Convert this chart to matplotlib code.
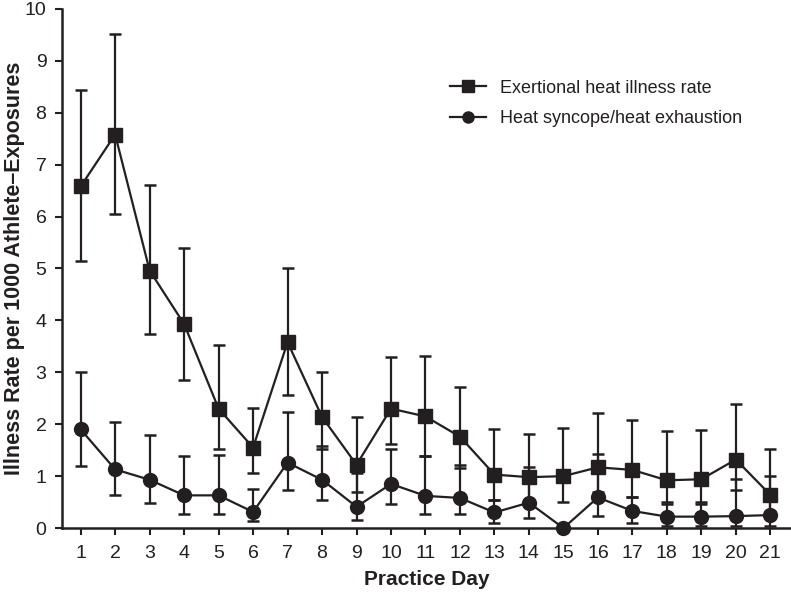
import numpy as np
import matplotlib
matplotlib.use('Agg')
import matplotlib.pyplot as plt

plt.rcParams['font.family'] = ['Liberation Sans Narrow', 'Liberation Sans', 'DejaVu Sans']

days = list(range(1, 22))

# exertional heat illness rate with CI bounds
ehi = [6.58, 7.58, 4.96, 3.93, 2.30, 1.55, 3.58, 2.14, 1.22, 2.30, 2.15,
       1.76, 1.03, 0.98, 1.00, 1.17, 1.12, 0.92, 0.94, 1.32, 0.64]
ehi_lo = [5.14, 6.05, 3.74, 2.86, 1.52, 1.06, 2.56, 1.52, 0.69, 1.62, 1.39,
          1.16, 0.55, 0.55, 0.51, 0.70, 0.60, 0.46, 0.46, 0.73, 0.30]
ehi_hi = [8.44, 9.52, 6.60, 5.40, 3.52, 2.31, 5.00, 3.01, 2.14, 3.30, 3.31,
          2.71, 1.91, 1.81, 1.92, 2.21, 2.08, 1.86, 1.89, 2.39, 1.52]

# heat syncope / heat exhaustion
hs = [1.90, 1.13, 0.93, 0.63, 0.63, 0.31, 1.26, 0.93, 0.41, 0.85, 0.62,
      0.58, 0.30, 0.49, 0.00, 0.59, 0.33, 0.22, 0.22, 0.23, 0.25]
hs_lo = [1.19, 0.63, 0.48, 0.28, 0.28, 0.13, 0.73, 0.55, 0.15, 0.47, 0.28,
         0.28, 0.10, 0.20, 0.00, 0.24, 0.10, 0.04, 0.04, 0.04, 0.04]
hs_hi = [3.00, 2.04, 1.79, 1.38, 1.40, 0.75, 2.23, 1.58, 1.07, 1.53, 1.39,
         1.22, 0.55, 1.18, 0.00, 1.43, 0.60, 0.50, 0.50, 0.95, 1.01]

col = '#231f20'

fig = plt.figure(figsize=(7.91, 5.92), dpi=100)
ax = fig.add_axes([0.078, 0.108, 0.922, 0.877])

e1 = np.array([np.subtract(ehi, ehi_lo), np.subtract(ehi_hi, ehi)])
e2 = np.array([np.subtract(hs, hs_lo), np.subtract(hs_hi, hs)])

c1 = ax.errorbar(days, ehi, yerr=e1, color=col, marker='s', ms=10, lw=1.6,
                 capsize=4.5, capthick=1.8, elinewidth=1.6,
                 label='Exertional heat illness rate', clip_on=False, zorder=3)
c2 = ax.errorbar(days, hs, yerr=e2, color=col, marker='o', ms=10, lw=1.6,
                 capsize=4.5, capthick=1.8, elinewidth=1.6,
                 label='Heat syncope/heat exhaustion', clip_on=False, zorder=3)

ax.set_xlim(0.45, 21.6)
ax.set_ylim(0, 10)
ax.set_xticks(days)
ax.set_yticks(range(0, 11))
ax.tick_params(direction='out', length=5, width=1.5, color=col,
               labelsize=14, labelcolor=col)
ax.tick_params(axis='x', pad=7)
ax.tick_params(axis='y', pad=6)
for s in ['top', 'right']:
    ax.spines[s].set_visible(False)
for s in ['left', 'bottom']:
    ax.spines[s].set_linewidth(1.8)
    ax.spines[s].set_color(col)

ax.set_xlabel('Practice Day', fontsize=15, fontweight='bold', color=col, labelpad=6)
ax.set_ylabel('Illness Rate per 1000 Athlete\u2013Exposures', fontsize=15.5,
              fontweight='bold', color=col)
ax.yaxis.set_label_coords(-0.05, 0.5)

leg = ax.legend(handles=[c1.lines[0], c2.lines[0]],
                labels=['Exertional heat illness rate', 'Heat syncope/heat exhaustion'],
                loc='upper left', bbox_to_anchor=(0.51, 0.895), frameon=False,
                fontsize=13, handlelength=2.0, labelspacing=0.75, handletextpad=0.75,
                markerscale=0.8)
for t in leg.get_texts():
    t.set_color(col)

fig.savefig('out.png', dpi=100)
